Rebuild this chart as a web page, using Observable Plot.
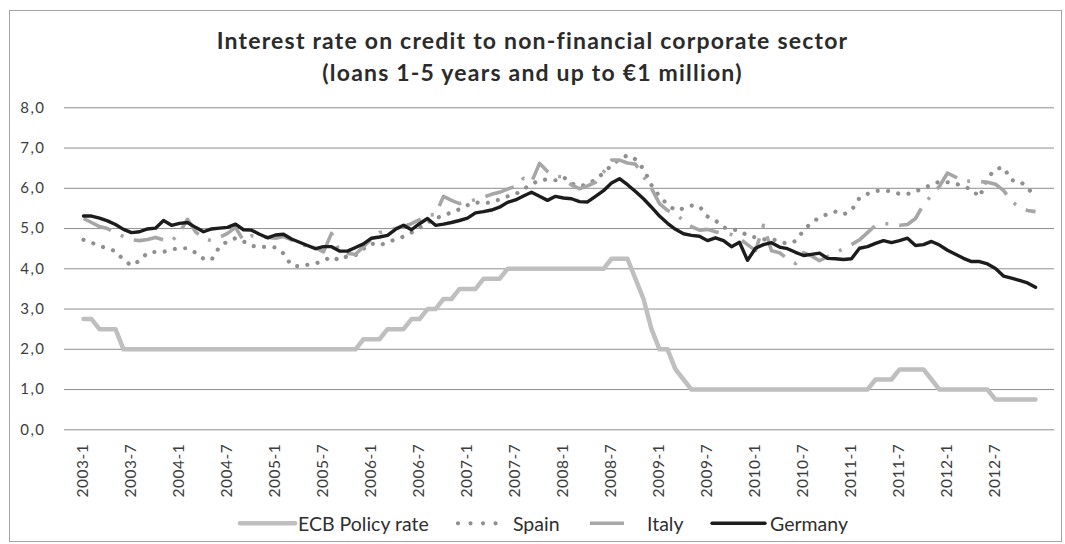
<!DOCTYPE html>
<html>
<head>
<meta charset="utf-8">
<script src="https://cdn.jsdelivr.net/npm/d3@7"></script>
<script src="https://cdn.jsdelivr.net/npm/@observablehq/plot@0.6"></script>
<style>
  html, body { margin: 0; padding: 0; background: #ffffff; }
  #wrap { position: relative; width: 1065px; height: 544px; overflow: hidden; font-family: Lato, "Open Sans", sans-serif; }
  #frame { position: absolute; left: 9px; top: 10px; width: 1053px; height: 532px; border: 1px solid #a3a3a3; box-sizing: border-box; }
  #title { position: absolute; left: 0; top: 24px; width: 1065px; text-align: center; font-weight: 700; font-size: 23px; letter-spacing: 1.2px; line-height: 32px; color: #2b2b2b; }
  #plot { position: absolute; left: 0; top: 90px; }
  #legend { position: absolute; left: 0; top: 505px; }
  g[aria-label="y-axis tick label"] text { letter-spacing: 1.5px; }
  g[aria-label="x-axis tick label"] text { letter-spacing: 0.5px; }
</style>
</head>
<body>
<div id="wrap">
  <div id="frame"></div>
  <div id="title"></div>
  <div id="plot"></div>
  <svg id="legend" width="1065" height="39"></svg>
</div>
<script>
// ---- data ----
const titleLines = ["Interest rate on credit to non-financial corporate sector", "(loans 1-5 years and up to €1 million)"];
const years = [2003, 2004, 2005, 2006, 2007, 2008, 2009, 2010, 2011, 2012];
const monthNums = [1, 2, 3, 4, 5, 6, 7, 8, 9, 10, 11, 12];
const tickLabels = ["2003-1","2003-7","2004-1","2004-7","2005-1","2005-7","2006-1","2006-7","2007-1","2007-7",
  "2008-1","2008-7","2009-1","2009-7","2010-1","2010-7","2011-1","2011-7","2012-1","2012-7"];
const yTicks = [0, 1, 2, 3, 4, 5, 6, 7, 8];
const seriesNames = ["ECB Policy rate", "Spain", "Italy", "Germany"];

const ecb = [
  2.75,2.75,2.50,2.50,2.50,2.00,2.00,2.00,2.00,2.00,2.00,2.00,
  2.00,2.00,2.00,2.00,2.00,2.00,2.00,2.00,2.00,2.00,2.00,2.00,
  2.00,2.00,2.00,2.00,2.00,2.00,2.00,2.00,2.00,2.00,2.00,2.25,
  2.25,2.25,2.50,2.50,2.50,2.75,2.75,3.00,3.00,3.25,3.25,3.50,
  3.50,3.50,3.75,3.75,3.75,4.00,4.00,4.00,4.00,4.00,4.00,4.00,
  4.00,4.00,4.00,4.00,4.00,4.00,4.25,4.25,4.25,3.75,3.25,2.50,
  2.00,2.00,1.50,1.25,1.00,1.00,1.00,1.00,1.00,1.00,1.00,1.00,
  1.00,1.00,1.00,1.00,1.00,1.00,1.00,1.00,1.00,1.00,1.00,1.00,
  1.00,1.00,1.00,1.25,1.25,1.25,1.50,1.50,1.50,1.50,1.25,1.00,
  1.00,1.00,1.00,1.00,1.00,1.00,0.75,0.75,0.75,0.75,0.75,0.75
];
const spain = [
  4.72,4.65,4.57,4.50,4.44,4.22,4.08,4.20,4.40,4.42,4.42,4.48,
  4.51,4.51,4.40,4.25,4.22,4.55,4.68,4.76,4.68,4.57,4.54,4.55,
  4.53,4.38,4.08,4.06,4.10,4.13,4.20,4.30,4.21,4.32,4.34,4.50,
  4.63,4.58,4.66,4.73,4.80,4.90,5.02,5.15,5.25,5.33,5.40,5.48,
  5.58,5.65,5.62,5.66,5.72,5.80,5.85,5.98,6.10,6.20,6.22,6.20,
  6.28,6.12,6.05,6.10,6.22,6.38,6.57,6.72,6.82,6.72,6.48,6.08,
  5.80,5.60,5.45,5.50,5.57,5.55,5.30,5.20,5.03,4.98,4.95,4.82,
  4.78,4.73,4.74,4.68,4.62,4.69,4.95,5.15,5.27,5.36,5.42,5.35,
  5.45,5.76,5.86,5.93,5.95,5.92,5.86,5.86,5.92,6.01,6.08,6.17,
  6.15,6.12,6.04,5.98,5.78,6.25,6.48,6.52,6.20,6.18,6.02,5.76
];
const italy = [
  5.25,5.15,5.05,5.00,4.90,4.80,4.72,4.70,4.73,4.78,4.72,4.68,
  4.90,5.23,4.92,4.75,4.70,4.78,4.88,5.03,4.70,4.82,4.80,4.78,
  4.76,4.80,4.72,4.62,4.56,4.52,4.42,4.88,4.42,4.38,4.36,4.55,
  4.74,4.90,4.95,5.00,5.05,5.12,5.22,5.33,5.35,5.80,5.70,5.62,
  5.66,5.72,5.78,5.85,5.90,5.98,6.05,6.25,6.15,6.62,6.42,6.30,
  6.28,6.08,5.99,6.06,6.15,6.40,6.70,6.70,6.63,6.60,6.30,6.00,
  5.62,5.45,5.36,5.20,5.05,4.96,4.98,4.92,4.88,4.85,4.75,4.60,
  4.45,5.08,4.45,4.40,4.25,4.13,4.40,4.32,4.20,4.30,4.40,4.50,
  4.60,4.72,4.90,5.08,5.12,5.12,5.08,5.10,5.25,5.60,5.82,6.05,
  6.38,6.28,6.17,6.18,6.17,6.15,6.10,5.95,5.68,5.52,5.45,5.42
];
const germany = [
  5.31,5.31,5.26,5.19,5.10,4.98,4.90,4.92,4.99,5.01,5.20,5.08,
  5.13,5.15,5.03,4.92,4.99,5.01,5.03,5.11,4.97,4.96,4.86,4.77,
  4.84,4.86,4.74,4.66,4.58,4.50,4.55,4.55,4.44,4.44,4.53,4.62,
  4.76,4.79,4.83,4.98,5.08,4.97,5.12,5.25,5.08,5.11,5.15,5.20,
  5.26,5.39,5.42,5.46,5.53,5.65,5.71,5.81,5.90,5.80,5.70,5.80,
  5.76,5.74,5.67,5.66,5.80,5.94,6.13,6.24,6.09,5.92,5.74,5.53,
  5.31,5.13,4.98,4.87,4.83,4.81,4.70,4.77,4.70,4.55,4.66,4.21,
  4.51,4.60,4.65,4.54,4.50,4.41,4.33,4.36,4.39,4.26,4.25,4.23,
  4.25,4.51,4.55,4.63,4.70,4.65,4.70,4.76,4.58,4.60,4.68,4.59,
  4.46,4.36,4.26,4.18,4.18,4.12,4.01,3.82,3.77,3.71,3.65,3.54
];

// ---- styles ----
const styles = {
  "ECB Policy rate": {stroke: "#bfbfbf", strokeWidth: 4.5, strokeLinecap: "round", strokeLinejoin: "round"},
  "Spain": {stroke: "#8f8f8f", strokeWidth: 4.2, strokeDasharray: "0.01,10.4", strokeLinecap: "round", strokeLinejoin: "round"},
  "Italy": {stroke: "#a6a6a6", strokeWidth: 3.6, strokeDasharray: "30,11,3,11", strokeLinecap: "butt", strokeLinejoin: "round"},
  "Germany": {stroke: "#1c1c1c", strokeWidth: 3.4, strokeLinecap: "round", strokeLinejoin: "round"}
};

const months = [];
for (const y of years) for (const m of monthNums) months.push(`${y}-${m}`);
const seriesValues = [ecb, spain, italy, germany];
const rowsFor = (vals, name) => months.map((m, i) => ({month: m, value: vals[i], series: name}));

// ---- title ----
document.getElementById("title").innerHTML = titleLines.map(t => `<div>${t}</div>`).join("");

// ---- plot ----
const H = 420;
const chart = Plot.plot({
  width: 1065,
  height: H,
  marginLeft: 64,
  marginRight: 11,
  marginTop: 17.3,
  marginBottom: H - 339.3,
  style: {fontFamily: "Lato, 'Open Sans', sans-serif", fontSize: "15px", color: "#3c3c3c", background: "transparent"},
  x: {type: "point", domain: months, padding: 0.5, label: null},
  y: {domain: [0, 8], label: null},
  marks: [
    Plot.ruleY(yTicks, {stroke: "#8e8e8e", strokeWidth: 1}),
    Plot.axisY(yTicks, {tickSize: 0, tickPadding: 19, label: null, fontSize: 15,
      tickFormat: d => d.toFixed(1).replace(".", ",")}),
    Plot.axisX(tickLabels, {tickSize: 0, tickRotate: -90, tickPadding: 14, label: null, fontSize: 15.5}),
    ...seriesNames.map((name, k) =>
      Plot.lineY(rowsFor(seriesValues[k], name), {x: "month", y: "value", ...styles[name]}))
  ]
});
document.getElementById("plot").appendChild(chart);

// ---- legend ----
const legendLayout = [
  {sx0: 240, sx1: 295, tx: 298},
  {sx0: 458, sx1: 508, tx: 513},
  {sx0: 590, sx1: 624, tx: 647},
  {sx0: 712, sx1: 765, tx: 770}
];
const lg = d3.select("#legend");
seriesNames.forEach((name, k) => {
  const L = legendLayout[k], s = styles[name];
  const line = lg.append("line")
    .attr("x1", L.sx0).attr("x2", L.sx1).attr("y1", 18.3).attr("y2", 18.3)
    .attr("stroke", s.stroke).attr("stroke-width", s.strokeWidth)
    .attr("stroke-linecap", s.strokeLinecap);
  if (name === "Spain") line.attr("stroke-dasharray", "0.01,12.5");
  lg.append("text").attr("x", L.tx).attr("y", 26)
    .attr("font-family", "Lato, 'Open Sans', sans-serif").attr("font-size", 19.5)
    .attr("fill", "#2f2f2f").text(name);
});
</script>
</body>
</html>
